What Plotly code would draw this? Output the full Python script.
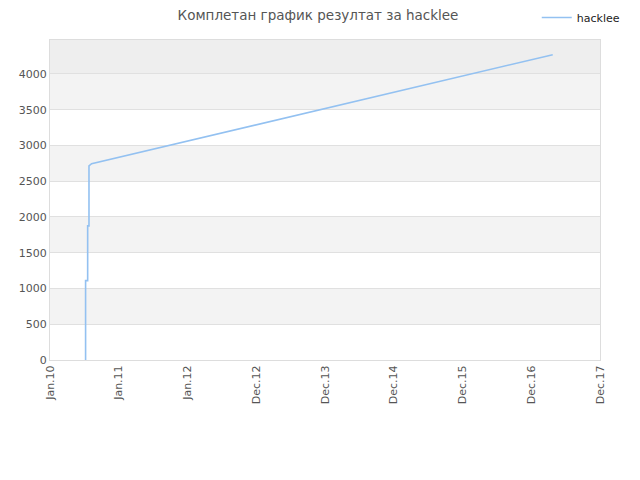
import pandas as pd
import plotly.graph_objects as go

# score history
dates = ["2010-07-09", "2010-07-09", "2010-07-20", "2010-07-20",
         "2010-07-27", "2010-07-27", "2010-08-10", "2017-04-24"]
scores = [0, 1110, 1110, 1875, 1875, 2715, 2745, 4270]

x_start = pd.Timestamp("2010-01-01")
x_end = pd.Timestamp("2017-12-31")
y_max = 4475

# 8 equal steps across the range, like the original
step = (x_end - x_start) / 8
tick_dates = [x_start + step * k for k in range(9)]

fig = go.Figure()
fig.add_trace(go.Scatter(x=dates, y=scores,
                         mode='lines',
                         name='hacklee',
                         line=dict(color='#93c1f1', width=1.6)))

# alternating bands behind the grid
shapes = []
for i, lo in enumerate(range(0, 4500, 500)):
    hi = min(lo + 500, y_max)
    if lo >= 4000:
        col = '#eeeeee'
    elif i % 2 == 1:
        col = '#f3f3f3'
    else:
        continue
    shapes.append(dict(type='rect', xref='paper', yref='y', x0=0, x1=1,
                       y0=lo, y1=hi, fillcolor=col, line_width=0, layer='below'))

# page body has an 8px margin, so everything is pulled up/left by 8px
off = 8
fig.update_layout(
    width=640, height=480,
    margin=dict(l=50 - off, r=40 + off, t=40 - off, b=120 + off, autoexpand=False),
    paper_bgcolor='white', plot_bgcolor='white',
    font=dict(family='DejaVu Sans', size=11, color='#555555'),
    title=dict(text='Комплетан график резултат за hacklee', x=(318 - off) / 640,
               xref='container', xanchor='center', y=1 - 3 / 480,
               yref='container', yanchor='top', pad=dict(t=0, b=0),
               font=dict(size=13.5, color='#555555')),
    legend=dict(x=1.045, xanchor='right', y=1.0 + 37 / 320, yanchor='top',
                itemwidth=30, font=dict(size=11, color='#222222'),
                bgcolor='rgba(0,0,0,0)'),
    showlegend=True,
    shapes=shapes,
)
fig.update_xaxes(type='date', range=[x_start, x_end], tickvals=tick_dates,
                 tickformat='%b.%y', tickangle=-90, showgrid=False, automargin=False,
                 showline=True, linecolor='#dddddd', mirror=True, zeroline=False,
                 ticks='', tickfont=dict(size=11, color='#555555'))
fig.update_yaxes(range=[0, y_max], tickvals=list(range(0, 4001, 500)),
                 showgrid=True, gridcolor='#e0e0e0', gridwidth=1, automargin=False,
                 showline=True, linecolor='#dddddd', mirror=True, zeroline=False,
                 ticks='', tickfont=dict(size=11, color='#555555'))

fig.write_html("out.html")
